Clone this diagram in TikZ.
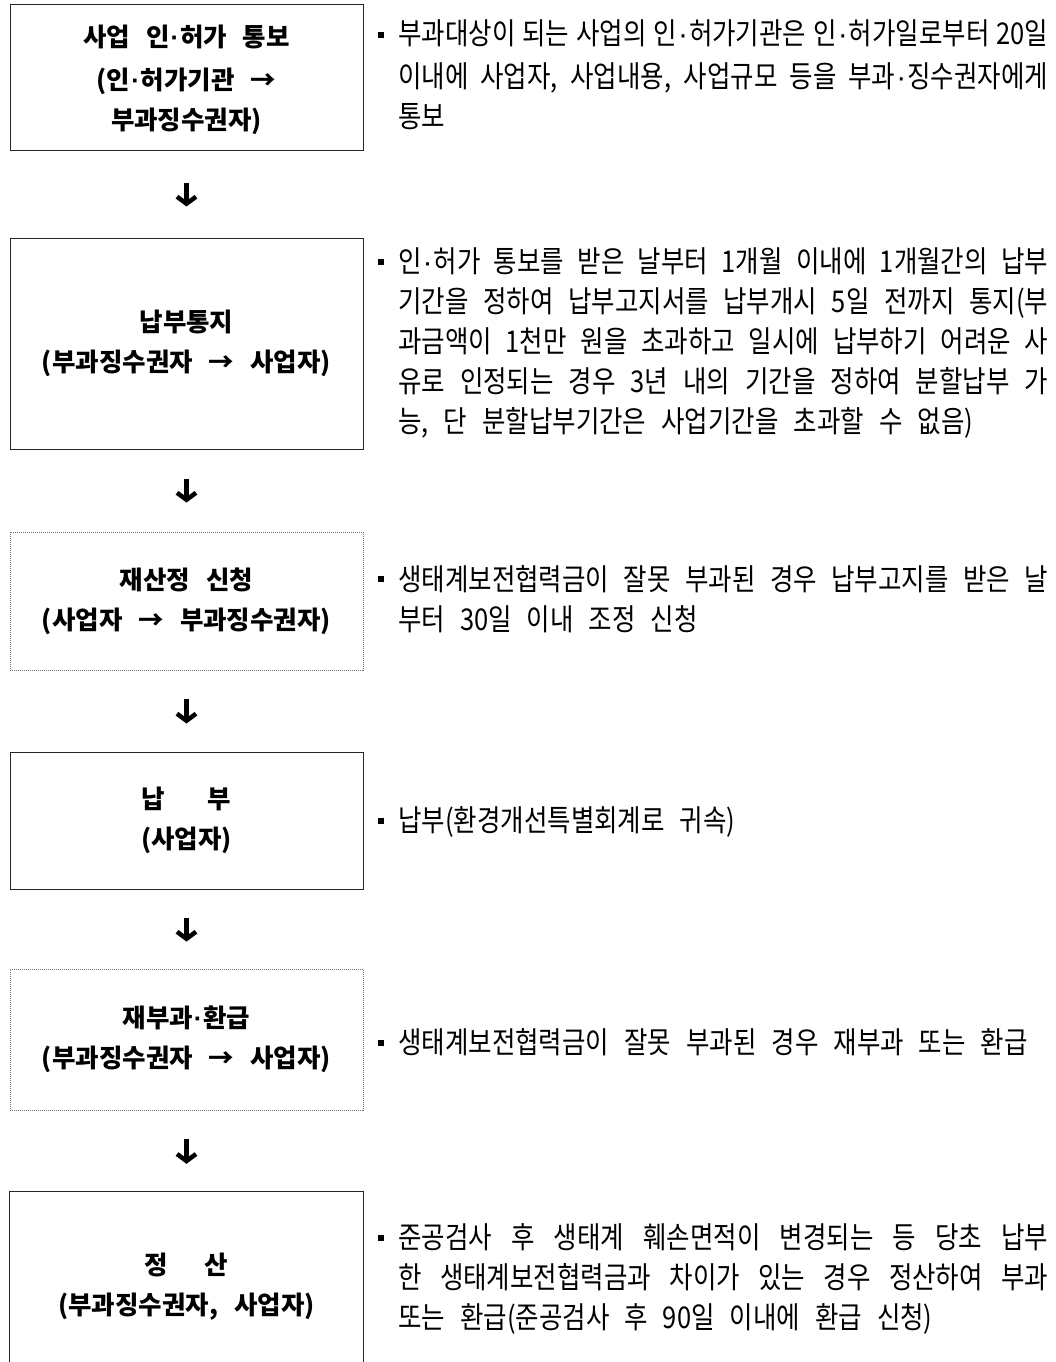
\documentclass[tikz,border=0pt]{standalone}
\usepackage{fontspec}
\usetikzlibrary{arrows.meta}
\newfontfamily\krbox{Noto Sans CJK KR}
\newfontfamily\krtxt[FakeStretch=0.85]{Noto Sans CJK KR}
\newfontfamily\dotfont{Liberation Sans}
\newcommand\md{{\dotfont\kern1pt·\kern1pt}}
\newcommand\boxfont{\krbox\bfseries\fontsize{25.5}{40}\selectfont\spaceskip=16pt plus 4pt minus 4pt\xspaceskip=\spaceskip\relax}
\newcommand\parfont{\krtxt\fontsize{30}{40}\selectfont}
\newcommand\psp{\spaceskip=15pt plus 30pt minus 10pt\xspaceskip=\spaceskip\relax}
\newcommand\jl[1]{\makebox[650pt][s]{#1}}
\begin{document}
\begin{tikzpicture}[x=1pt,y=-1pt,
  flowbox/.style={draw=black!85, line width=1pt, minimum width=353pt, inner sep=0pt, align=center, font=\boxfont},
  dotbox/.style={flowbox, draw=black!55, line width=0.9pt, dash pattern=on 1pt off 1pt},
  bullet/.style={fill=black, minimum size=6pt, inner sep=0pt},
  para/.style={anchor=base west, inner sep=0pt, text width=650pt, align=left, font=\parfont},
  flowarrow/.style={line width=5pt, -{Straight Barb[length=7pt,width=19pt,line width=4.5pt]}}]
\useasboundingbox (0,0) rectangle (1055,1362);
\fill[white] (0,0) rectangle (1055,1362);

% boxes
\node[flowbox, minimum height=145pt] (b1) at (186.5,77.5) {};
\node[inner sep=0pt, align=center, font=\boxfont] (b1t) at (186.5,80) {사업 인\md 허가 통보\\[3pt](인\md 허가기관 →\\부과징수권자)};
\node[flowbox, minimum height=211pt] (b2) at (186.5,343.5) {납부통지\\(부과징수권자 → 사업자)};
\node[dotbox, minimum height=138pt] (b3) at (186.5,601) {재산정 신청\\(사업자 → 부과징수권자)};
\node[flowbox, minimum height=137pt] (b4) at (186.5,820.5) {납\hspace{43pt}부\\(사업자)};
\node[dotbox, minimum height=141pt] (b5) at (186.5,1039.5) {재부과\md 환급\\(부과징수권자 → 사업자)};
\node[minimum width=353pt, minimum height=170pt, inner sep=0pt] (b6) at (186.5,1277) {};
\draw[draw=black!85, line width=1pt] (b6.south west) -- (b6.north west) -- (b6.north east) -- (b6.south east);
\node[inner sep=0pt, align=center, font=\boxfont] (b6t) at (186.5,1287) {정\hspace{37pt}산\\(부과징수권자, 사업자)};

% arrows
\draw[flowarrow, shorten <=32pt, shorten >=31pt] (b1) -- (b2);
\draw[flowarrow, shorten <=29pt, shorten >=29pt] (b2) -- (b3);
\draw[flowarrow, shorten <=29pt, shorten >=28pt] (b3) -- (b4);
\draw[flowarrow, shorten <=28pt, shorten >=27pt] (b4) -- (b5);
\draw[flowarrow, shorten <=29pt, shorten >=28pt] (b5) -- (b6);

% bullets
\node[bullet] (u1) at (381,35) {};
\node[bullet] (u2) at (381,262) {};
\node[bullet] (u3) at (381,579) {};
\node[bullet] (u4) at (381,821) {};
\node[bullet] (u5) at (381,1043) {};
\node[bullet] (u6) at (381,1238) {};

% paragraphs
\node[para] (p1) at (398,45) {\psp\jl{부과대상이 되는 사업의 인\md 허가기관은 인\md 허가일로부터 20일}\\[3pt]\jl{이내에 사업자, 사업내용, 사업규모 등을 부과\md 징수권자에게}\\통보};
\node[para] (p2) at (398,272) {\psp\jl{인\md 허가 통보를 받은 날부터 1개월 이내에 1개월간의 납부}\\\jl{기간을 정하여 납부고지서를 납부개시 5일 전까지 통지(부}\\\jl{과금액이 1천만 원을 초과하고 일시에 납부하기 어려운 사}\\\jl{유로 인정되는 경우 3년 내의 기간을 정하여 분할납부 가}\\능, 단 분할납부기간은 사업기간을 초과할 수 없음)};
\node[para] (p3) at (398,590) {\psp\jl{생태계보전협력금이 잘못 부과된 경우 납부고지를 받은 날}\\부터 30일 이내 조정 신청};
\node[para] (p4) at (398,831) {\psp 납부(환경개선특별회계로 귀속)};
\node[para] (p5) at (398,1053) {\psp 생태계보전협력금이 잘못 부과된 경우 재부과 또는 환급};
\node[para] (p6) at (398,1248) {\psp\jl{준공검사 후 생태계 훼손면적이 변경되는 등 당초 납부}\\\jl{한 생태계보전협력금과 차이가 있는 경우 정산하여 부과}\\또는 환급(준공검사 후 90일 이내에 환급 신청)};
\end{tikzpicture}
\end{document}
